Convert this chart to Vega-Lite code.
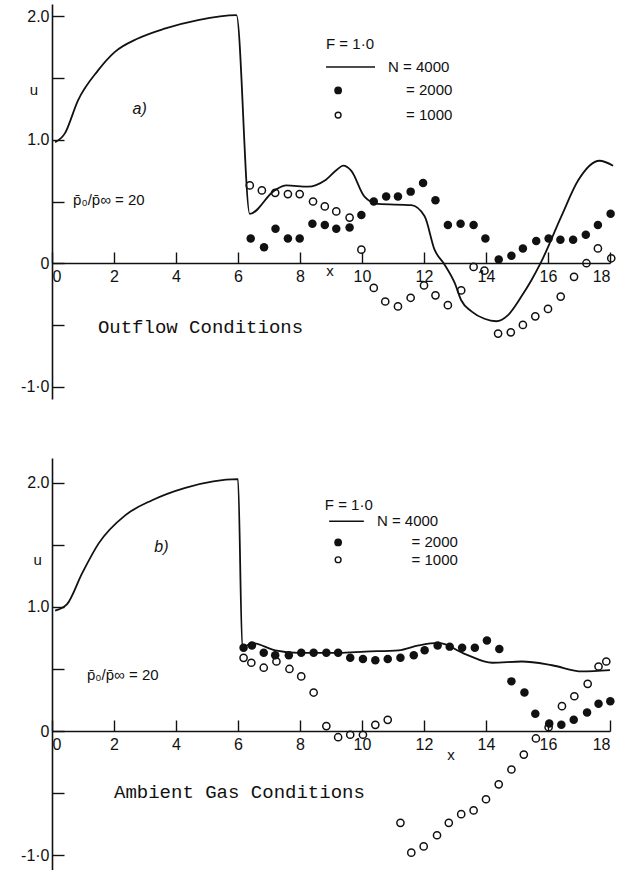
{
  "$schema": "https://vega.github.io/schema/vega-lite/v6.json",
  "padding": {"left": 20, "top": 4, "right": 0, "bottom": 0},
  "background": "white",
  "spacing": 59,
  "config": {
    "view": {"stroke": null},
    "font": "Liberation Sans",
    "axis": {
      "domainColor": "#111", "domainWidth": 1.6, "tickColor": "#111", "tickWidth": 1.4,
      "labelColor": "#111", "labelFont": "Liberation Sans", "labelFontSize": 16,
      "grid": false, "title": null
    }
  },
  "datasets": {
    "a_curve": [
      {"x":0.1,"u":0.98},{"x":0.41,"u":1.05},{"x":0.84,"u":1.32},{"x":1.48,"u":1.56},{"x":2.02,"u":1.71},
      {"x":2.77,"u":1.82},{"x":3.63,"u":1.9},{"x":4.71,"u":1.97},{"x":5.95,"u":2.01},{"x":6.38,"u":0.4},
      {"x":7.18,"u":0.59},{"x":7.56,"u":0.63},{"x":8.26,"u":0.62},{"x":8.8,"u":0.67},{"x":9.2,"u":0.76},
      {"x":9.39,"u":0.79},{"x":9.65,"u":0.75},{"x":10.08,"u":0.54},{"x":10.52,"u":0.48},{"x":11.59,"u":0.47},
      {"x":12.02,"u":0.38},{"x":12.34,"u":0.11},{"x":12.66,"u":-0.01},{"x":12.99,"u":-0.16},{"x":13.2,"u":-0.3},
      {"x":13.53,"u":-0.39},{"x":13.95,"u":-0.45},{"x":14.33,"u":-0.47},{"x":14.71,"u":-0.42},{"x":15.14,"u":-0.27},
      {"x":15.46,"u":-0.14},{"x":15.76,"u":0.0},{"x":16.43,"u":0.38},{"x":16.97,"u":0.67},{"x":17.66,"u":0.83},
      {"x":18.1,"u":0.79}
    ],
    "a_n2000": [
      {"x":6.41,"u":0.2},{"x":6.84,"u":0.13},{"x":7.21,"u":0.28},{"x":7.61,"u":0.2},{"x":7.99,"u":0.2},
      {"x":8.4,"u":0.32},{"x":8.8,"u":0.31},{"x":9.17,"u":0.28},{"x":9.6,"u":0.29},{"x":9.98,"u":0.39},
      {"x":10.38,"u":0.5},{"x":10.78,"u":0.54},{"x":11.16,"u":0.54},{"x":11.57,"u":0.58},{"x":11.97,"u":0.65},
      {"x":12.37,"u":0.51},{"x":12.77,"u":0.31},{"x":13.18,"u":0.32},{"x":13.6,"u":0.31},{"x":13.98,"u":0.2},
      {"x":14.41,"u":0.03},{"x":14.82,"u":0.06},{"x":15.19,"u":0.12},{"x":15.62,"u":0.18},{"x":16.02,"u":0.2},
      {"x":16.4,"u":0.19},{"x":16.81,"u":0.19},{"x":17.22,"u":0.23},{"x":17.61,"u":0.31},{"x":18.02,"u":0.4}
    ],
    "a_n1000": [
      {"x":6.38,"u":0.63},{"x":6.77,"u":0.59},{"x":7.2,"u":0.57},{"x":7.61,"u":0.56},{"x":7.99,"u":0.56},
      {"x":8.42,"u":0.5},{"x":8.8,"u":0.46},{"x":9.17,"u":0.42},{"x":9.6,"u":0.37},{"x":9.98,"u":0.11},
      {"x":10.38,"u":-0.2},{"x":10.75,"u":-0.31},{"x":11.16,"u":-0.35},{"x":11.57,"u":-0.28},{"x":12.0,"u":-0.18},
      {"x":12.37,"u":-0.26},{"x":12.77,"u":-0.34},{"x":13.2,"u":-0.22},{"x":13.6,"u":-0.03},{"x":13.95,"u":-0.06},
      {"x":14.39,"u":-0.57},{"x":14.8,"u":-0.56},{"x":15.19,"u":-0.5},{"x":15.59,"u":-0.43},{"x":16.0,"u":-0.37},
      {"x":16.41,"u":-0.27},{"x":16.84,"u":-0.11},{"x":17.24,"u":0.0},{"x":17.61,"u":0.12},{"x":18.04,"u":0.04}
    ],
    "b_curve": [
      {"x":0.1,"u":0.97},{"x":0.22,"u":0.98},{"x":0.48,"u":1.02},{"x":0.97,"u":1.27},{"x":1.5,"u":1.51},
      {"x":2.37,"u":1.74},{"x":3.23,"u":1.86},{"x":4.3,"u":1.96},{"x":6.0,"u":2.03},{"x":6.14,"u":0.67},
      {"x":6.45,"u":0.71},{"x":7.2,"u":0.65},{"x":7.96,"u":0.63},{"x":9.25,"u":0.63},{"x":10.1,"u":0.64},
      {"x":11.18,"u":0.65},{"x":11.83,"u":0.69},{"x":12.47,"u":0.71},{"x":13.33,"u":0.62},{"x":14.2,"u":0.55},
      {"x":15.16,"u":0.56},{"x":16.13,"u":0.53},{"x":17.1,"u":0.48},{"x":18.0,"u":0.49}
    ],
    "b_n2000": [
      {"x":6.18,"u":0.67},{"x":6.45,"u":0.69},{"x":6.83,"u":0.63},{"x":7.2,"u":0.61},{"x":7.64,"u":0.61},
      {"x":8.04,"u":0.63},{"x":8.44,"u":0.63},{"x":8.85,"u":0.63},{"x":9.23,"u":0.63},{"x":9.62,"u":0.59},
      {"x":10.03,"u":0.58},{"x":10.43,"u":0.57},{"x":10.83,"u":0.58},{"x":11.24,"u":0.59},{"x":11.67,"u":0.61},
      {"x":12.02,"u":0.65},{"x":12.44,"u":0.69},{"x":12.83,"u":0.68},{"x":13.23,"u":0.67},{"x":13.64,"u":0.67},
      {"x":14.03,"u":0.73},{"x":14.43,"u":0.66},{"x":14.82,"u":0.4},{"x":15.24,"u":0.31},{"x":15.59,"u":0.14},
      {"x":16.04,"u":0.06},{"x":16.43,"u":0.05},{"x":16.83,"u":0.09},{"x":17.26,"u":0.15},{"x":17.63,"u":0.22},
      {"x":18.01,"u":0.24}
    ],
    "b_n1000": [
      {"x":6.18,"u":0.59},{"x":6.43,"u":0.55},{"x":6.83,"u":0.51},{"x":7.24,"u":0.56},{"x":7.66,"u":0.5},
      {"x":8.04,"u":0.44},{"x":8.44,"u":0.31},{"x":8.85,"u":0.04},{"x":9.23,"u":-0.05},{"x":9.62,"u":-0.03},
      {"x":10.03,"u":-0.03},{"x":10.43,"u":0.05},{"x":10.83,"u":0.09},{"x":11.24,"u":-0.74},{"x":11.59,"u":-0.98},
      {"x":11.99,"u":-0.93},{"x":12.42,"u":-0.84},{"x":12.8,"u":-0.74},{"x":13.2,"u":-0.67},{"x":13.6,"u":-0.64},
      {"x":14.0,"u":-0.55},{"x":14.41,"u":-0.43},{"x":14.82,"u":-0.31},{"x":15.22,"u":-0.19},{"x":15.61,"u":-0.06},
      {"x":16.02,"u":0.03},{"x":16.45,"u":0.2},{"x":16.85,"u":0.28},{"x":17.28,"u":0.38},{"x":17.63,"u":0.52},
      {"x":17.88,"u":0.56}
    ]
  },
  "vconcat": [
    {
      "width": 558,
      "height": 395,
      "layer": [
        {
          "data": {"name": "a_curve"},
          "mark": {"type": "line", "color": "#111", "strokeWidth": 1.8, "interpolate": "monotone"},
          "encoding": {
            "x": {"field": "x", "type": "quantitative",
                  "scale": {"domain": [0, 18], "nice": false, "zero": false},
                  "axis": {"values": [0,2,4,6,8,10,12,14,16,18], "offset": -136, "tickSize": -11, "labelPadding": 16}},
            "y": {"field": "u", "type": "quantitative",
                  "scale": {"domain": [-1.1, 2.1], "nice": false, "zero": false},
                  "axis": {"values": [-1,-0.5,0,0.5,1,1.5,2], "tickSize": -12, "labelPadding": 15,
                           "labelExpr": "datum.value == 0 ? '0' : (datum.value == 1 ? '1.0' : (datum.value == 2 ? '2.0' : (datum.value == -1 ? '-1·0' : '')))"}}
          }
        },
        {
          "data": {"name": "a_n2000"},
          "mark": {"type": "point", "shape": "circle", "filled": true, "color": "#111", "size": 72, "opacity": 1},
          "encoding": {"x": {"field": "x", "type": "quantitative"}, "y": {"field": "u", "type": "quantitative"}}
        },
        {
          "data": {"name": "a_n1000"},
          "mark": {"type": "point", "shape": "circle", "filled": false, "color": "#111", "size": 52, "strokeWidth": 1.5, "opacity": 1},
          "encoding": {"x": {"field": "x", "type": "quantitative"}, "y": {"field": "u", "type": "quantitative"}}
        },
        {
          "data": {"values": [{"x": 8.84, "x2": 10.42, "u": 1.59}]},
          "mark": {"type": "rule", "color": "#111", "strokeWidth": 1.5},
          "encoding": {"x": {"field": "x", "type": "quantitative"}, "x2": {"field": "x2"}, "y": {"field": "u", "type": "quantitative"}}
        },
        {
          "data": {"values": [{"x": 9.23, "u": 1.4}]},
          "mark": {"type": "point", "shape": "circle", "filled": true, "color": "#111", "size": 60, "opacity": 1},
          "encoding": {"x": {"field": "x", "type": "quantitative"}, "y": {"field": "u", "type": "quantitative"}}
        },
        {
          "data": {"values": [{"x": 9.23, "u": 1.2}]},
          "mark": {"type": "point", "shape": "circle", "filled": false, "color": "#111", "size": 34, "strokeWidth": 1.4, "opacity": 1},
          "encoding": {"x": {"field": "x", "type": "quantitative"}, "y": {"field": "u", "type": "quantitative"}}
        },
        {
          "data": {"values": [
            {"x": 8.84, "u": 1.78, "t": "F = 1·0"},
            {"x": 10.84, "u": 1.59, "t": "N = 4000"},
            {"x": 11.42, "u": 1.4, "t": "= 2000"},
            {"x": 11.42, "u": 1.2, "t": "= 1000"},
            {"x": 0.68, "u": 0.51, "t": "p̄₀/p̄∞ = 20"},
            {"x": -0.72, "u": 1.4, "t": "u"},
            {"x": 8.85, "u": -0.06, "t": "x"}
          ]},
          "mark": {"type": "text", "align": "left", "baseline": "middle", "fontSize": 15, "color": "#111"},
          "encoding": {"x": {"field": "x", "type": "quantitative"}, "y": {"field": "u", "type": "quantitative"}, "text": {"field": "t"}}
        },
        {
          "data": {"values": [{"x": 2.6, "u": 1.25, "t": "a)"}]},
          "mark": {"type": "text", "align": "left", "baseline": "middle", "fontSize": 16, "fontStyle": "italic", "color": "#111"},
          "encoding": {"x": {"field": "x", "type": "quantitative"}, "y": {"field": "u", "type": "quantitative"}, "text": {"field": "t"}}
        },
        {
          "data": {"values": [{"x": 1.48, "u": -0.52, "t": "Outflow Conditions"}]},
          "mark": {"type": "text", "align": "left", "baseline": "middle", "fontSize": 19, "font": "Liberation Mono", "color": "#111"},
          "encoding": {"x": {"field": "x", "type": "quantitative"}, "y": {"field": "u", "type": "quantitative"}, "text": {"field": "t"}}
        }
      ]
    },
    {
      "width": 558,
      "height": 412,
      "layer": [
        {
          "data": {"name": "b_curve"},
          "mark": {"type": "line", "color": "#111", "strokeWidth": 1.8, "interpolate": "monotone"},
          "encoding": {
            "x": {"field": "x", "type": "quantitative",
                  "scale": {"domain": [0, 18], "nice": false, "zero": false},
                  "axis": {"values": [0,2,4,6,8,10,12,14,16,18], "offset": -139, "tickSize": -11, "labelPadding": 16}},
            "y": {"field": "u", "type": "quantitative",
                  "scale": {"domain": [-1.12, 2.2], "nice": false, "zero": false},
                  "axis": {"values": [-1,-0.5,0,0.5,1,1.5,2], "tickSize": -12, "labelPadding": 15,
                           "labelExpr": "datum.value == 0 ? '0' : (datum.value == 1 ? '1.0' : (datum.value == 2 ? '2.0' : (datum.value == -1 ? '-1·0' : '')))"}}
          }
        },
        {
          "data": {"name": "b_n2000"},
          "mark": {"type": "point", "shape": "circle", "filled": true, "color": "#111", "size": 72, "opacity": 1},
          "encoding": {"x": {"field": "x", "type": "quantitative"}, "y": {"field": "u", "type": "quantitative"}}
        },
        {
          "data": {"name": "b_n1000"},
          "mark": {"type": "point", "shape": "circle", "filled": false, "color": "#111", "size": 52, "strokeWidth": 1.5, "opacity": 1},
          "encoding": {"x": {"field": "x", "type": "quantitative"}, "y": {"field": "u", "type": "quantitative"}}
        },
        {
          "data": {"values": [{"x": 8.94, "x2": 10.06, "u": 1.69}]},
          "mark": {"type": "rule", "color": "#111", "strokeWidth": 1.5},
          "encoding": {"x": {"field": "x", "type": "quantitative"}, "x2": {"field": "x2"}, "y": {"field": "u", "type": "quantitative"}}
        },
        {
          "data": {"values": [{"x": 9.23, "u": 1.52}]},
          "mark": {"type": "point", "shape": "circle", "filled": true, "color": "#111", "size": 60, "opacity": 1},
          "encoding": {"x": {"field": "x", "type": "quantitative"}, "y": {"field": "u", "type": "quantitative"}}
        },
        {
          "data": {"values": [{"x": 9.23, "u": 1.38}]},
          "mark": {"type": "point", "shape": "circle", "filled": false, "color": "#111", "size": 34, "strokeWidth": 1.4, "opacity": 1},
          "encoding": {"x": {"field": "x", "type": "quantitative"}, "y": {"field": "u", "type": "quantitative"}}
        },
        {
          "data": {"values": [
            {"x": 8.8, "u": 1.82, "t": "F = 1·0"},
            {"x": 10.48, "u": 1.69, "t": "N = 4000"},
            {"x": 11.6, "u": 1.52, "t": "= 2000"},
            {"x": 11.6, "u": 1.38, "t": "= 1000"},
            {"x": 1.13, "u": 0.45, "t": "p̄₀/p̄∞ = 20"},
            {"x": -0.6, "u": 1.38, "t": "u"},
            {"x": 12.75, "u": -0.19, "t": "x"}
          ]},
          "mark": {"type": "text", "align": "left", "baseline": "middle", "fontSize": 15, "color": "#111"},
          "encoding": {"x": {"field": "x", "type": "quantitative"}, "y": {"field": "u", "type": "quantitative"}, "text": {"field": "t"}}
        },
        {
          "data": {"values": [{"x": 3.3, "u": 1.48, "t": "b)"}]},
          "mark": {"type": "text", "align": "left", "baseline": "middle", "fontSize": 16, "fontStyle": "italic", "color": "#111"},
          "encoding": {"x": {"field": "x", "type": "quantitative"}, "y": {"field": "u", "type": "quantitative"}, "text": {"field": "t"}}
        },
        {
          "data": {"values": [{"x": 2.0, "u": -0.49, "t": "Ambient Gas Conditions"}]},
          "mark": {"type": "text", "align": "left", "baseline": "middle", "fontSize": 19, "font": "Liberation Mono", "color": "#111"},
          "encoding": {"x": {"field": "x", "type": "quantitative"}, "y": {"field": "u", "type": "quantitative"}, "text": {"field": "t"}}
        }
      ]
    }
  ]
}
